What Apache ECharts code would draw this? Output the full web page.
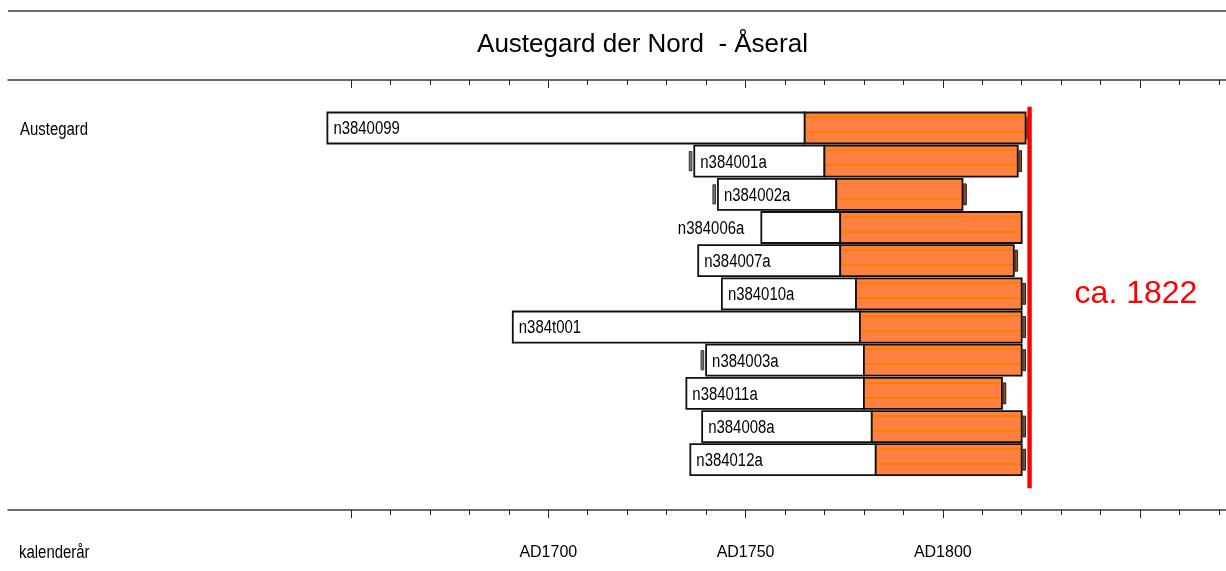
<!DOCTYPE html>
<html><head><meta charset="utf-8">
<script src="https://cdn.jsdelivr.net/npm/echarts@6/dist/echarts.min.js"></script>
<style>html,body{margin:0;padding:0;background:#fff}#c{width:1226px;height:571px}</style>
</head><body><div id="c"></div>
<script>
// ---- data ----
const titleText = 'Austegard der Nord  - Åseral';
const siteName = 'Austegard';
const axisName = 'kalenderår';
const samples = ['n3840099','n384001a','n384002a','n384006a','n384007a','n384010a','n384t001','n384003a','n384011a','n384008a','n384012a'];
const firstYear = [1644,1737,1743,1754,1738,1744,1691,1740,1735,1739,1736];
const sapwoodStart = [1765,1770,1773,1774,1774,1778,1779,1780,1780,1782,1783];
const lastYear = [1821,1819,1805,1820,1818,1820,1820,1820,1815,1820,1820];
const pithMark = [0,1,1,0,0,0,0,1,0,0,0];
const barkMark = [1,1,1,0,1,1,1,1,1,1,1];
const majorTicks = [1650,1700,1750,1800,1850];
const minorTicks = [1650,1660,1670,1680,1690,1700,1710,1720,1730,1740,1750,1760,1770,1780,1790,1800,1810,1820,1830,1840,1850,1860,1870];
const tickLabels = [1700,1750,1800];
const fellingYear = 1822;
const fellingText = 'ca. 1822';

// ---- rendering ----
const REG = "'Liberation Sans',Arial,sans-serif";
const NARROW_SCALE = 0.83;
const X_MIN = 1563.04, X_MAX = 1871.79;
const chart = echarts.init(document.getElementById('c'));

const sapFill = {type:'linear',x:0,y:0,x2:0,y2:1,colorStops:[
  {offset:0,color:'#ff8040'},{offset:0.14,color:'#ff8040'},{offset:0.14,color:'#ff8000'},
  {offset:0.2,color:'#ff8000'},{offset:0.2,color:'#ff8040'},{offset:0.6,color:'#ff8040'},
  {offset:0.6,color:'#ff8000'},{offset:0.66,color:'#ff8000'},{offset:0.66,color:'#ff8040'},
  {offset:1,color:'#ff8040'}]};

const rows = samples.map((s,i)=>[i, firstYear[i], sapwoodStart[i], lastYear[i]]);

function narrowText(text, x, y, align){
  return {type:'text',x:x,y:y,scaleX:NARROW_SCALE,scaleY:1,
    style:{text:text,x:0,y:0,fill:'#000',font:'18px '+REG,align:align,verticalAlign:'middle',
      textAlign:align,textVerticalAlign:'middle'}};
}

function barItem(params, api){
  const i = params.dataIndex;
  const row = api.value(0);
  const p0 = api.coord([api.value(1), row]);
  const p1 = api.coord([api.value(2), row]);
  const p2 = api.coord([api.value(3), row]);
  const unit = api.size([0,1])[1];
  const h = unit*0.935;
  const top = p0[1]-h/2;
  const ch = [];
  ch.push({type:'rect',shape:{x:p0[0],y:top,width:p1[0]-p0[0],height:h},
    style:{fill:'#ffffff',stroke:'#111',lineWidth:1.8}});
  ch.push({type:'rect',shape:{x:p1[0],y:top,width:p2[0]-p1[0],height:h},
    style:{fill:sapFill,stroke:'#111',lineWidth:1.8}});
  if (pithMark[i]) {
    const mh = unit*0.58;
    ch.push({type:'rect',shape:{x:p0[0]-5,y:p0[1]-mh/2,width:2.6,height:mh},
      style:{fill:'#777',stroke:'#333',lineWidth:1}});
  }
  if (barkMark[i]) {
    const mh = unit*0.63;
    ch.push({type:'rect',shape:{x:p2[0]+1.2,y:p0[1]-mh/2,width:2.6,height:mh},
      style:{fill:'#a04a20',stroke:'#222',lineWidth:1}});
  }
  const inside = (p1[0]-p0[0]) > 90;
  ch.push(narrowText(samples[i], inside?p0[0]+6:p0[0]-17, p0[1]+1.5, inside?'left':'right'));
  return {type:'group',children:ch};
}

function fellItem(params, api){
  const n = samples.length;
  const a = api.coord([api.value(0), -0.642]);
  const b = api.coord([api.value(0), (n-1)+0.862]);
  const m = api.coord([api.value(0), (n-1)/2]);
  return {type:'group',children:[
    {type:'line',shape:{x1:a[0],y1:a[1],x2:b[0],y2:b[1]},style:{stroke:'#ff0000',lineWidth:4.4}},
    {type:'text',style:{text:fellingText,x:m[0]+45,y:m[1],fill:'#ff0000',font:'32px '+REG,
      align:'left',verticalAlign:'middle'}}
  ]};
}

function xa(pos, ticks, len, showLine, labels){
  return {type:'value',gridIndex:0,position:pos,min:X_MIN,max:X_MAX,
    axisLine:{show:showLine,onZero:false,lineStyle:{color:'#3a3a3a',width:1.5}},
    axisTick:{show:true,customValues:ticks,length:len,inside:pos==='top',lineStyle:{color:'#222',width:1}},
    splitLine:{show:false},minorTick:{show:false},
    axisLabel: labels ? {show:true,customValues:labels,formatter:(v)=>'AD'+v,margin:35,
      color:'#000',fontSize:16,fontFamily:REG} : {show:false}};
}

chart.setOption({
  animation:false,
  backgroundColor:'#ffffff',
  grid:{left:8,right:0,top:80,bottom:61,containLabel:false},
  xAxis:[xa('top',minorTicks,5,true,null),xa('top',majorTicks,8,false,null),
         xa('bottom',minorTicks,5,true,null),xa('bottom',majorTicks,8,false,tickLabels)],
  yAxis:{type:'value',min:-1.447,max:11.516,inverse:true,show:false},
  graphic:[
    {type:'line',shape:{x1:8,y1:11,x2:1226,y2:11},style:{stroke:'#3a3a3a',lineWidth:1.5}},
    {type:'text',x:642.5,y:45,style:{text:titleText,font:'26px '+REG,fill:'#000',
      align:'center',verticalAlign:'middle',textAlign:'center',textVerticalAlign:'middle'}},
    narrowText(siteName, 20, 130, 'left'),
    narrowText(axisName, 19, 553, 'left')
  ],
  series:[
    {type:'custom',xAxisIndex:0,yAxisIndex:0,renderItem:barItem,data:rows,
      encode:{x:[1,2,3],y:0},clip:false},
    {type:'custom',xAxisIndex:0,yAxisIndex:0,renderItem:fellItem,data:[[fellingYear]],
      encode:{x:0},clip:false}
  ]
});
</script></body></html>
